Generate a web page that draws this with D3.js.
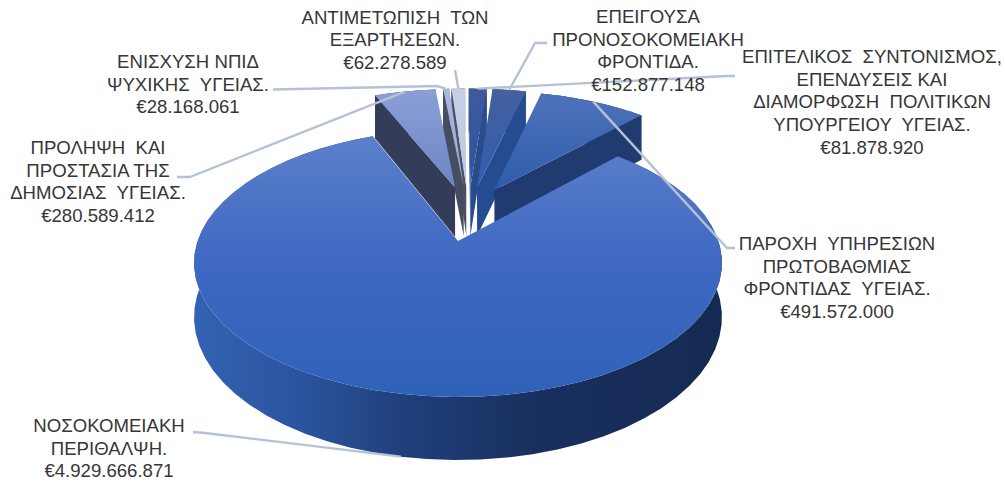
<!DOCTYPE html>
<html>
<head>
<meta charset="utf-8">
<script src="https://cdn.jsdelivr.net/npm/d3@7"></script>
<style>
  html, body { margin: 0; background: #fff; }
  text { font-family: "Liberation Sans", Arial, sans-serif; font-size: 18.6px; fill: #363636; white-space: pre; }
</style>
</head>
<body>
<div id="chart"></div>
<script>
// Data, clockwise from 12 o'clock
const categories = [
    ["ΕΠΙΤΕΛΙΚΟΣ  ΣΥΝΤΟΝΙΣΜΟΣ,", "ΕΠΕΝΔΥΣΕΙΣ ΚΑΙ", "ΔΙΑΜΟΡΦΩΣΗ  ΠΟΛΙΤΙΚΩΝ", "ΥΠΟΥΡΓΕΙΟΥ  ΥΓΕΙΑΣ."],
    ["ΕΠΕΙΓΟΥΣΑ", "ΠΡΟΝΟΣΟΚΟΜΕΙΑΚΗ", "ΦΡΟΝΤΙΔΑ."],
    ["ΠΑΡΟΧΗ  ΥΠΗΡΕΣΙΩΝ", "ΠΡΩΤΟΒΑΘΜΙΑΣ", "ΦΡΟΝΤΙΔΑΣ  ΥΓΕΙΑΣ."],
    ["ΝΟΣΟΚΟΜΕΙΑΚΗ", "ΠΕΡΙΘΑΛΨΗ."],
    ["ΠΡΟΛΗΨΗ  ΚΑΙ", "ΠΡΟΣΤΑΣΙΑ ΤΗΣ", "ΔΗΜΟΣΙΑΣ  ΥΓΕΙΑΣ."],
    ["ΕΝΙΣΧΥΣΗ ΝΠΙΔ", "ΨΥΧΙΚΗΣ  ΥΓΕΙΑΣ."],
    ["ΑΝΤΙΜΕΤΩΠΙΣΗ  ΤΩΝ", "ΕΞΑΡΤΗΣΕΩΝ."]
];
const values = [81878920, 152877148, 491572000, 4929666871, 280589412, 28168061, 62278589];

// Slice colours: top face gradient and wall
const topFrom = ["#3f5a9b", "#465f9f", "#4f72ba", "#5c80ca", "#8b9fd5", "#a9b8de", "#c6cfe7"];
const topTo = ["#2a55a3", "#2f5fae", "#2e5cab", "#2f61b8", "#6b86c6", "#95a8d6", "#bcc7e3"];
const wallColors = ["#2b4c8c", "#254c90", "#1f3b70", "#1e3d74", "#333c58", "#474d60", "#4b5163"];

// Label placement: centre x and first baseline, elbow of the leader line
const labelX = [872, 648, 837, 109, 98, 188, 395];
const labelY = [63, 23, 250, 432, 154, 68, 23.5];
const elbowStart = [[735, 76], [547, 43], [735, 248], [193, 432], [177, 177], [273, 89.5], [455, 70]];
const elbowEnd = [[727, 76], [535, 43], [727, 248], [205, 433], [190, 177], [437, 86], null];

const width = 1005, height = 485;
const lineHeight = 22.7;
const explosion = 0.225;  // share of radius each slice is pulled out
const originX = 458, originY = 241;  // where the biggest slice's tip lands

// Tilted plane: u to the right, v towards the viewer
const persp = 0.164, scaleU = 260.4, scaleV = 130.4, depth = 52.7;
function project(u, v, down) {
    const w = 1 - persp * v;
    return [
        originX + scaleU * u / w,
        originY + scaleV * v / w + (down ? depth / w : 0)
    ];
}

const svg = d3.select("#chart").append("svg")
    .attr("width", width)
    .attr("height", height)
    .style("display", "block");
const defs = svg.append("defs");

const pie = d3.pie().sort(null).value(d => d).startAngle(0).endAngle(2 * Math.PI);
const arcs = pie(values);
const biggest = d3.maxIndex(values);

const dir = a => [Math.sin(a), -Math.cos(a)];
const mid = d => (d.startAngle + d.endAngle) / 2;
const pathOf = d3.line();

// Every slice moves out from the pie centre, the picture is anchored on the biggest one
const baseDir = dir(mid(arcs[biggest]));
arcs.forEach((d, i) => {
    const md = dir(mid(d));
    d.index = i;
    d.tip = [explosion * (md[0] - baseDir[0]), explosion * (md[1] - baseDir[1])];
    d.rim = d3.range(0, 61).map(k => {
        const p = dir(d.startAngle + (d.endAngle - d.startAngle) * k / 60);
        return [d.tip[0] + p[0], d.tip[1] + p[1]];
    });
});

// Back slices first, biggest slice last
const order = arcs.slice().sort((a, b) => Math.cos(mid(b)) - Math.cos(mid(a)));

// Gradient for the big outer wall
const wallGrad = defs.append("linearGradient")
    .attr("id", "wallMain")
    .attr("gradientUnits", "userSpaceOnUse")
    .attr("x1", 195).attr("x2", 722).attr("y1", 0).attr("y2", 0);
wallGrad.selectAll("stop")
    .data([[0, "#3362b4"], [0.2, "#2b549e"], [0.4, "#1f3f7a"], [0.65, "#192f5e"], [1, "#152a52"]])
    .enter().append("stop")
    .attr("offset", d => d[0])
    .attr("stop-color", d => d[1]);

order.forEach(d => {
    const i = d.index;
    const g = svg.append("g");

    const grad = defs.append("linearGradient")
        .attr("id", "top" + i)
        .attr("x1", 0).attr("x2", 0).attr("y1", 0).attr("y2", 1);
    grad.append("stop").attr("offset", 0).attr("stop-color", topFrom[i]);
    grad.append("stop").attr("offset", i === biggest ? 0.45 : 1).attr("stop-color", i === biggest ? "#4069c2" : topTo[i]);
    if (i === biggest) grad.append("stop").attr("offset", 1).attr("stop-color", topTo[i]);

    const wallFill = i === biggest ? "url(#wallMain)" : wallColors[i];

    // outer wall
    const upper = d.rim.map(p => project(p[0], p[1], false));
    const lower = d.rim.map(p => project(p[0], p[1], true));
    g.append("path")
        .attr("d", pathOf(upper.concat(lower.slice().reverse())) + "Z")
        .attr("fill", wallFill);

    // side walls, only those turned to the viewer (d3.polygonArea is positive counter-clockwise on screen)
    const tipUp = project(d.tip[0], d.tip[1], false);
    const tipDown = project(d.tip[0], d.tip[1], true);
    const sides = [
        { quad: [tipUp, upper[0], lower[0], tipDown], sign: 1 },
        { quad: [tipUp, upper[60], lower[60], tipDown], sign: -1 }
    ];
    sides.forEach(s => {
        if (d3.polygonArea(s.quad) * s.sign > 0) {
            g.append("path")
                .attr("d", pathOf(s.quad) + "Z")
                .attr("fill", wallFill);
        }
    });

    // top face
    g.append("path")
        .attr("d", pathOf([tipUp].concat(upper)) + "Z")
        .attr("fill", "url(#top" + i + ")");
});

// Leader lines end at the middle of each slice's rim
const leaders = svg.append("g")
    .attr("fill", "none")
    .attr("stroke", "#b5c1d5")
    .attr("stroke-width", 2.4)
    .attr("stroke-linejoin", "round");
arcs.forEach((d, i) => {
    const p = dir(mid(d));
    const end = project(d.tip[0] + p[0], d.tip[1] + p[1], p[1] > 0);
    const pts = [elbowStart[i]];
    if (elbowEnd[i]) pts.push(elbowEnd[i]);
    pts.push(end);
    leaders.append("path").attr("d", pathOf(pts));
});

// Labels
const euro = d3.formatLocale({ decimal: ",", thousands: ".", grouping: [3], currency: ["€", ""] }).format("$,");
categories.forEach((lines, i) => {
    const t = svg.append("text")
        .attr("x", labelX[i])
        .attr("y", labelY[i])
        .attr("text-anchor", "middle");
    lines.concat(euro(values[i])).forEach((line, k) => {
        t.append("tspan")
            .attr("x", labelX[i])
            .attr("y", labelY[i] + k * lineHeight)
            .text(line);
    });
});
</script>
</body>
</html>
